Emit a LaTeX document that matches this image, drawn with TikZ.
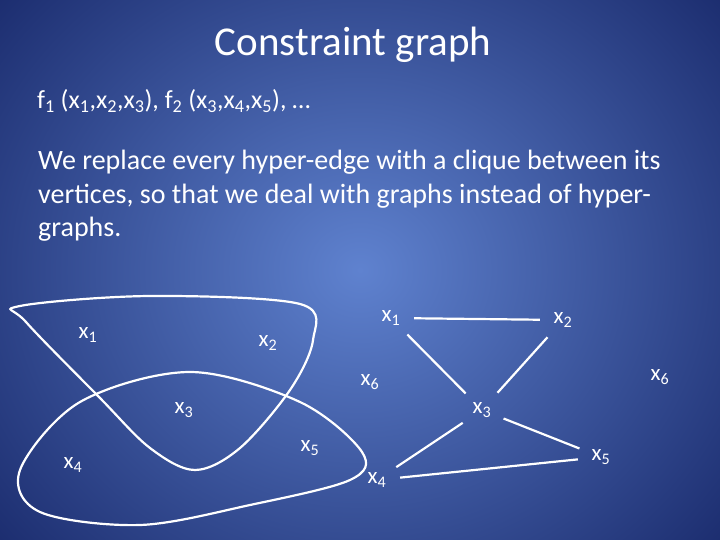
\documentclass[tikz,border=0pt]{standalone}
\usepackage{fontspec}
\setmainfont{Carlito}
\definecolor{bgin}{HTML}{5F82CF}
\definecolor{bgout}{HTML}{1B2C6E}
\begin{document}
\begin{tikzpicture}[x=1pt,y=-1pt,
  lbl/.style={text=white,font=\fontsize{23}{26}\selectfont,inner sep=0pt,circle,minimum size=46pt},
  edge/.style={white,line width=2.2pt},
  loop/.style={white,line width=2.2pt}]
\useasboundingbox (0,0) rectangle (720,540);
\shade[inner color=bgin,outer color=bgout] (-120,-160) rectangle (840,700);
\node[text=white,font=\fontsize{41}{46}\selectfont] (title) at (353,45) {Constraint graph};
\node[text=white,font=\fontsize{26}{30}\selectfont,anchor=west,inner sep=0pt] (f) at (37,101)
  {f\textsubscript{1} (x\textsubscript{1},x\textsubscript{2},x\textsubscript{3}), f\textsubscript{2} (x\textsubscript{3},x\textsubscript{4},x\textsubscript{5}), …};
\node[text=white,font=\fontsize{28}{33.5}\selectfont,anchor=north west,align=left,inner sep=0pt] (body) at (38,150)
  {We replace every hyper-edge with a clique between its\\vertices, so that we deal with graphs instead of hyper-\\graphs.};
% left hypergraph
\node[lbl] (a1) at (88,335) {x\textsubscript{1}};
\node[lbl] (a2) at (268,343) {x\textsubscript{2}};
\node[lbl] (a3) at (184,410) {x\textsubscript{3}};
\node[lbl] (a4) at (73,465) {x\textsubscript{4}};
\node[lbl] (a5) at (310,448) {x\textsubscript{5}};
\node[lbl] (a6) at (370,382) {x\textsubscript{6}};
\draw[loop] plot[smooth cycle,tension=0.55] coordinates {(20,306) (150,296) (300,304) (313,340) (290,390) (240,448) (195,470) (150,448) (100,398) (26,322)};
\draw[loop] plot[smooth cycle,tension=0.55] coordinates {(20,470) (80,402) (190,372) (300,402) (362,452) (350,480) (250,505) (140,525) (40,512)};
% right graph
\node[lbl] (b1) at (391,318) {x\textsubscript{1}};
\node[lbl] (b2) at (563,320) {x\textsubscript{2}};
\node[lbl] (b6) at (660,377) {x\textsubscript{6}};
\node[lbl] (b3) at (482,410) {x\textsubscript{3}};
\node[lbl] (b4) at (377,480) {x\textsubscript{4}};
\node[lbl] (b5) at (601,457) {x\textsubscript{5}};
\draw[edge] (b1) -- (b2);
\draw[edge] (b1) -- (b3);
\draw[edge] (b2) -- (b3);
\draw[edge] (b3) -- (b4);
\draw[edge] (b3) -- (b5);
\draw[edge] (b4) -- (b5);
\end{tikzpicture}
\end{document}
